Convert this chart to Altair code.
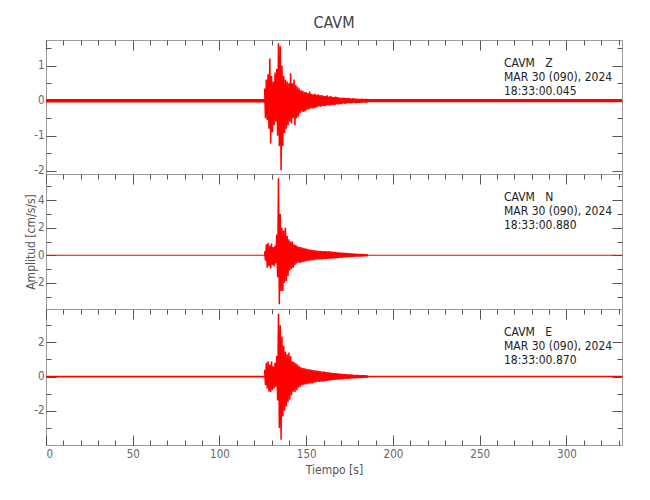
import altair as alt
import pandas as pd

# ---------------- data ----------------
TITLE = "CAVM"
X_MAX = 332
X_MAJOR = [0, 50, 100, 150, 200, 250, 300]
X_MINOR = [10, 20, 30, 40, 60, 70, 80, 90, 110, 120, 130, 140, 160, 170, 180, 190,
           210, 220, 230, 240, 260, 270, 280, 290, 310, 320, 330]

# seconds at which the positive (t) and negative (t + 0.5) swings of the
# strong-motion part are read
SECONDS = [126, 127, 128, 129, 130, 131, 132, 133, 134, 135,
           136, 137, 138, 139, 140, 141, 142, 143, 144, 145,
           146, 147, 148, 149, 150, 151, 152, 153, 154, 155,
           156, 157, 158, 159, 160, 161, 162, 163, 164, 165,
           166, 167, 168, 169, 170, 171, 172, 173, 174, 175,
           176, 177, 178, 179, 180, 181, 182, 183, 184, 185]

Z_POS = [0.35, 0.60, 0.75, 1.20, 0.70, 0.55, 0.80, 0.90, 1.64, 1.55,
         1.00, 0.70, 0.60, 0.55, 0.50, 0.78, 0.50, 0.60, 0.45, 0.40,
         0.35, 0.30, 0.28, 0.25, 0.24, 0.22, 0.26, 0.20, 0.18, 0.20,
         0.17, 0.18, 0.15, 0.16, 0.14, 0.13, 0.15, 0.12, 0.13, 0.11,
         0.10, 0.12, 0.10, 0.09, 0.08, 0.09, 0.08, 0.07, 0.08, 0.07,
         0.06, 0.07, 0.06, 0.06, 0.05, 0.05, 0.06, 0.05, 0.05, 0.05]
Z_NEG = [-0.50, -0.55, -0.80, -1.22, -0.90, -0.70, -0.60, -1.00, -1.30, -1.98,
         -1.30, -0.93, -0.80, -0.70, -0.60, -0.65, -0.50, -0.70, -0.50, -0.45,
         -0.35, -0.31, -0.32, -0.30, -0.26, -0.25, -0.22, -0.22, -0.22, -0.20,
         -0.18, -0.16, -0.18, -0.15, -0.16, -0.14, -0.13, -0.14, -0.12, -0.13,
         -0.12, -0.10, -0.11, -0.10, -0.10, -0.08, -0.09, -0.08, -0.07, -0.08,
         -0.07, -0.06, -0.07, -0.06, -0.06, -0.06, -0.05, -0.05, -0.06, -0.05]

N_POS = [0.30, 0.80, 0.90, 0.70, 0.85, 0.60, 0.70, 1.50, 5.60, 3.00,
         2.00, 1.80, 2.00, 1.40, 1.16, 1.00, 1.00, 0.80, 0.75, 0.67,
         0.60, 0.60, 0.55, 0.50, 0.48, 0.45, 0.42, 0.40, 0.38, 0.36,
         0.35, 0.33, 0.32, 0.30, 0.31, 0.30, 0.28, 0.30, 0.27, 0.26,
         0.25, 0.25, 0.22, 0.21, 0.20, 0.19, 0.18, 0.17, 0.16, 0.15,
         0.14, 0.13, 0.12, 0.11, 0.10, 0.09, 0.09, 0.08, 0.07, 0.06]
N_NEG = [-0.40, -0.90, -0.80, -0.95, -0.70, -0.80, -0.60, -1.60, -3.55, -2.60,
         -2.60, -2.00, -1.86, -1.50, -1.10, -1.00, -0.90, -0.70, -0.60, -0.53,
         -0.55, -0.50, -0.48, -0.45, -0.42, -0.40, -0.38, -0.35, -0.36, -0.32,
         -0.30, -0.31, -0.30, -0.30, -0.27, -0.28, -0.26, -0.25, -0.24, -0.23,
         -0.22, -0.20, -0.20, -0.18, -0.18, -0.16, -0.15, -0.15, -0.14, -0.13,
         -0.12, -0.12, -0.10, -0.10, -0.09, -0.08, -0.08, -0.07, -0.07, -0.06]

E_POS = [0.40, 0.80, 0.90, 0.70, 0.88, 0.60, 0.80, 1.20, 3.67, 3.00,
         2.34, 1.80, 1.46, 1.30, 1.40, 1.20, 0.90, 0.85, 0.78, 0.70,
         0.60, 0.55, 0.50, 0.48, 0.45, 0.44, 0.42, 0.40, 0.38, 0.36,
         0.35, 0.33, 0.32, 0.30, 0.30, 0.28, 0.27, 0.25, 0.23, 0.22,
         0.21, 0.20, 0.19, 0.18, 0.18, 0.16, 0.15, 0.14, 0.13, 0.12,
         0.12, 0.11, 0.10, 0.10, 0.09, 0.08, 0.08, 0.07, 0.07, 0.06]
E_NEG = [-0.50, -0.70, -0.88, -0.90, -0.80, -0.70, -0.60, -1.40, -3.00, -3.70,
         -2.34, -2.00, -1.75, -1.50, -1.36, -1.10, -0.88, -0.90, -0.80, -0.65,
         -0.60, -0.52, -0.48, -0.46, -0.45, -0.42, -0.40, -0.40, -0.36, -0.33,
         -0.30, -0.31, -0.30, -0.29, -0.28, -0.26, -0.25, -0.23, -0.22, -0.20,
         -0.19, -0.18, -0.18, -0.17, -0.16, -0.15, -0.14, -0.14, -0.13, -0.12,
         -0.11, -0.10, -0.10, -0.09, -0.08, -0.08, -0.07, -0.07, -0.06, -0.06]

# background-noise envelope (half width) along the whole record
NOISE_T = [0, 125, 180, 332]
Z_NOISE = [0.05, 0.05, 0.045, 0.045]
N_NOISE = [0.04, 0.04, 0.035, 0.035]
E_NOISE = [0.05, 0.05, 0.045, 0.045]

Z_DOMAIN = [-2.09, 1.73]
N_DOMAIN = [-3.9, 5.9]
E_DOMAIN = [-4.0, 3.95]
Z_MAJOR, Z_MINOR = [-2, -1, 0, 1], [-1.5, -0.5, 0.5, 1.5]
N_MAJOR, N_MINOR = [-2, 0, 2, 4], [-3, -1, 1, 3, 5]
E_MAJOR, E_MINOR = [-2, 0, 2], [-3, -1, 1, 3]

Z_STAMP = ["CAVM\u00a0\u00a0\u00a0Z", "MAR 30 (090), 2024", "18:33:00.045"]
N_STAMP = ["CAVM\u00a0\u00a0\u00a0N", "MAR 30 (090), 2024", "18:33:00.880"]
E_STAMP = ["CAVM\u00a0\u00a0\u00a0E", "MAR 30 (090), 2024", "18:33:00.870"]

Y_TITLE = "Amplitud [cm/s/s]"
X_TITLE = "Tiempo [s]"

# ---------------- styling ----------------
FONT = "Liberation Sans Narrow, DejaVu Sans Condensed, Roboto Condensed, Liberation Sans, sans-serif"
TICK = "#555555"
FRAME = "#9a9a9a"
LABEL = "#666666"
RED = "#ff0000"
W = 576
MAJ, MIN = 10, 5
HYPHEN_LABEL = "replace(datum.label, '\u2212', '-')"


def ax(orient, length, values, labels=False, **kw):
    return alt.Axis(orient=orient, offset=-length, tickSize=length, values=values,
                    labels=labels, domain=False, grid=False, tickColor=TICK,
                    tickWidth=1, **kw)


def panel(pos, neg, noise, ydom, ymaj, ymin, height, stamp, ytitle, last):
    ts, vs = [], []
    for s, p, n in zip(SECONDS, pos, neg):
        ts += [s, s + 0.5]
        vs += [p, n]
    wave = pd.DataFrame({"t": ts, "v": vs})
    band = pd.DataFrame({"t": NOISE_T, "hi": noise, "lo": [-n for n in noise]})
    xs = alt.Scale(domain=[0, X_MAX], nice=False, zero=False)
    ys = alt.Scale(domain=ydom, nice=False, zero=False)

    if ytitle:
        left_major = ax("left", MAJ, ymaj, labels=True, labelPadding=2,
                        labelExpr=HYPHEN_LABEL, title=ytitle, titlePadding=-4)
    else:
        left_major = ax("left", MAJ, ymaj, labels=True, labelPadding=2,
                        labelExpr=HYPHEN_LABEL, title=None)

    l1 = alt.Chart(band).mark_area(color=RED, opacity=1).encode(
        x=alt.X("t:Q", scale=xs, axis=ax("top", MAJ, X_MAJOR, title=None)),
        y=alt.Y("hi:Q", scale=ys, axis=left_major),
        y2="lo:Q",
    )
    l2 = alt.Chart(wave).mark_line(color=RED, strokeWidth=1.5, strokeJoin="miter",
                                   strokeMiterLimit=2).encode(
        x=alt.X("t:Q", scale=xs, axis=ax("top", MIN, X_MINOR, title=None)),
        y=alt.Y("v:Q", scale=ys, axis=ax("left", MIN, ymin, title=None)),
    )
    if last:
        bx_major = ax("bottom", MAJ, X_MAJOR, labels=True, labelPadding=3,
                      title=X_TITLE, titlePadding=5)
        bx_minor = ax("bottom", MIN, X_MINOR, title=None)
    else:
        bx_major = None
        bx_minor = None
    l3 = alt.Chart(band).mark_line(opacity=0).encode(
        x=alt.X("t:Q", scale=xs, axis=bx_major),
        y=alt.Y("hi:Q", scale=ys, axis=ax("right", MAJ, ymaj, title=None)),
    )
    l4 = alt.Chart(band).mark_line(opacity=0).encode(
        x=alt.X("t:Q", scale=xs, axis=bx_minor),
        y=alt.Y("lo:Q", scale=ys, axis=ax("right", MIN, ymin, title=None)),
    )
    txt = alt.Chart(pd.DataFrame({"k": [0]})).mark_text(
        text=stamp, align="left", baseline="top", font=FONT, fontSize=12,
        lineHeight=14.3, color="#222222",
    ).encode(x=alt.value(458), y=alt.value(17.5))

    return alt.layer(l1, l2, l3, l4, txt).resolve_axis(
        x="independent", y="independent"
    ).properties(width=W, height=height)


p1 = panel(Z_POS, Z_NEG, Z_NOISE, Z_DOMAIN, Z_MAJOR, Z_MINOR, 134, Z_STAMP, None, False)
p2 = panel(N_POS, N_NEG, N_NOISE, N_DOMAIN, N_MAJOR, N_MINOR, 135, N_STAMP, Y_TITLE, False)
p3 = panel(E_POS, E_NEG, E_NOISE, E_DOMAIN, E_MAJOR, E_MINOR, 136, E_STAMP, None, True)

chart = alt.vconcat(p1, p2, p3, spacing=0, bounds="flush").properties(
    title=alt.Title(TITLE, fontSize=16, font=FONT, color="#444444",
                    fontWeight="normal", anchor="middle", frame="group", offset=8),
    padding={"left": 16, "top": 7, "right": 10, "bottom": 5},
).configure_view(
    stroke=FRAME, strokeWidth=1
).configure_axis(
    labelFont=FONT, labelFontSize=11.5, labelColor=LABEL,
    titleFont=FONT, titleFontSize=12, titleColor="#555555", titleFontWeight="normal",
)

chart.save("out.html", embed_options={"renderer": "svg", "actions": False})
